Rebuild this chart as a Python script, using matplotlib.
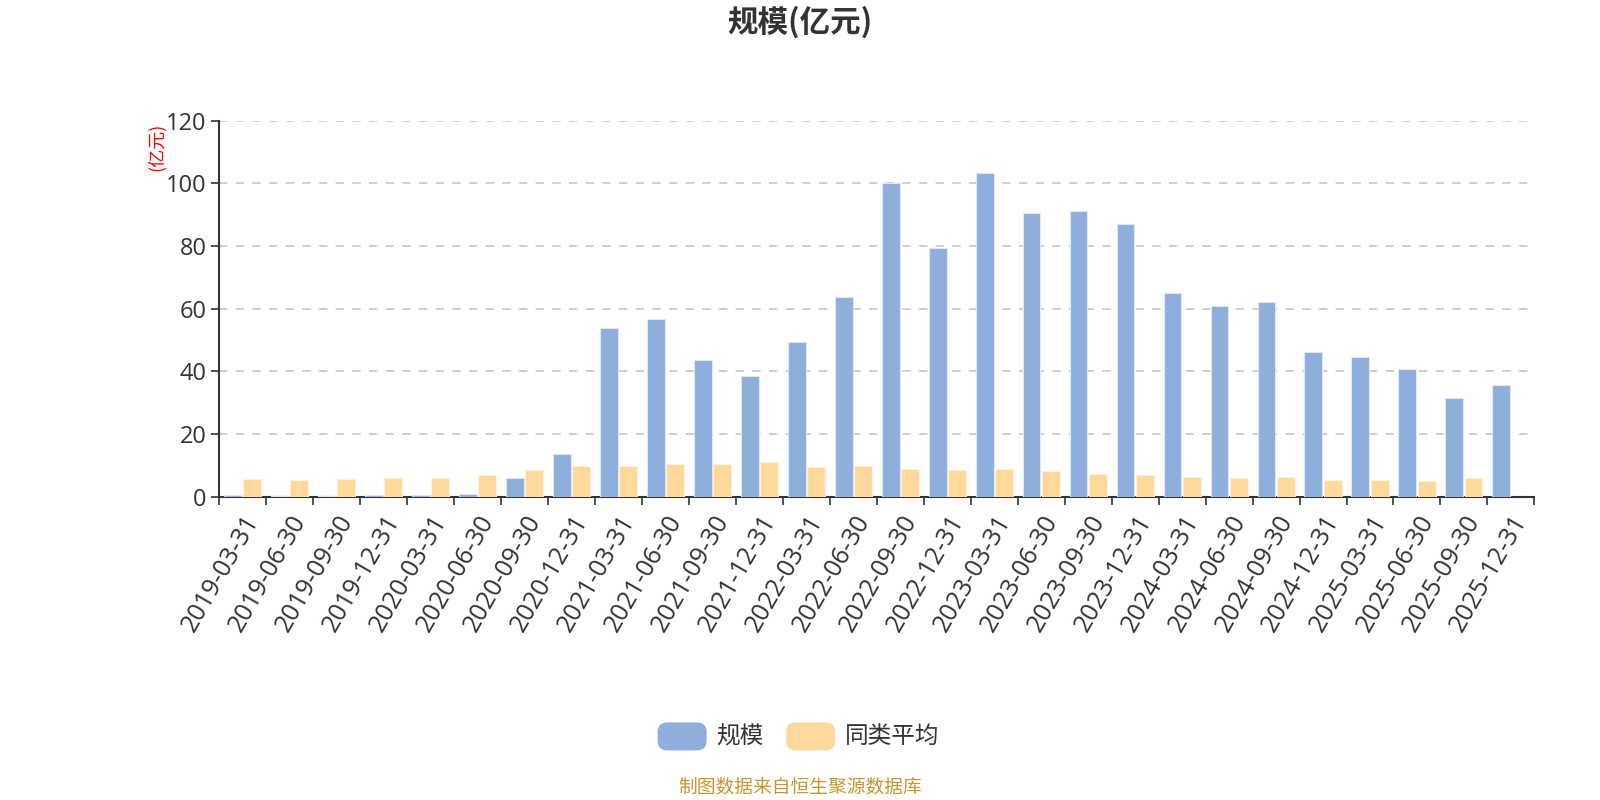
import numpy as np
import matplotlib.pyplot as plt
from matplotlib.patches import FancyBboxPatch

plt.rcParams['font.family'] = ['Open Sans', 'Noto Sans CJK SC', 'DejaVu Sans']
cjk = ['Noto Sans CJK SC', 'DejaVu Sans']

# quarter-end dates
dates = ['2019-03-31', '2019-06-30', '2019-09-30', '2019-12-31',
         '2020-03-31', '2020-06-30', '2020-09-30', '2020-12-31',
         '2021-03-31', '2021-06-30', '2021-09-30', '2021-12-31',
         '2022-03-31', '2022-06-30', '2022-09-30', '2022-12-31',
         '2023-03-31', '2023-06-30', '2023-09-30', '2023-12-31',
         '2024-03-31', '2024-06-30', '2024-09-30', '2024-12-31',
         '2025-03-31', '2025-06-30', '2025-09-30', '2025-12-31']

# fund size (亿元)
scale = [0.5, 0.4, 0.4, 0.5, 0.7, 0.9, 5.9, 13.6,
         54.0, 56.7, 43.6, 38.4, 49.4, 63.8, 100.2, 79.3,
         103.4, 90.7, 91.3, 87.1, 65.0, 61.0, 62.3, 46.2,
         44.5, 40.9, 31.5, 35.8]

# peer average (亿元), no value for the last quarter
peer_avg = [5.7, 5.4, 5.6, 6.0, 5.9, 7.1, 8.5, 9.8,
            9.8, 10.4, 10.4, 11.1, 9.5, 9.8, 8.8, 8.5,
            8.8, 8.1, 7.4, 6.8, 6.2, 5.9, 6.2, 5.5,
            5.5, 5.2, 6.0, np.nan]

blue = '#8eaedb'
yellow = '#fed99b'
text_col = '#333333'

fig = plt.figure(figsize=(16, 8), dpi=100)
ax = fig.add_axes([0.137, 0.379, 0.822, 0.470])

x = np.arange(len(dates))
w = 0.38
ax.bar(x - 0.205, scale, width=w, color=blue, edgecolor='#dfe7f5', linewidth=0.8, zorder=3)
ax.bar(x + 0.205, peer_avg, width=w, color=yellow, edgecolor='#fff0d6', linewidth=0.8, zorder=3)

ax.set_xlim(-0.5, len(dates) - 0.5)
ax.set_ylim(0, 120)
ax.set_yticks(np.arange(0, 121, 20))
for v in range(20, 121, 20):
    ax.axhline(v, color='#c8c8c8', linestyle=(0, (5, 5)), linewidth=1.2, zorder=1)

ax.set_xticks(x)
ax.set_xticklabels(dates, rotation=60, ha='right', rotation_mode='anchor')
ax.set_xticks(np.arange(-0.5, len(dates)), minor=True)
ax.tick_params(axis='x', which='major', length=0, pad=10, labelsize=18, labelcolor=text_col)
ax.tick_params(axis='x', which='minor', length=6, width=1.2, color=text_col)
ax.tick_params(axis='y', length=6, width=1.2, color=text_col, labelsize=17, labelcolor=text_col, pad=3)

for s in ['top', 'right']:
    ax.spines[s].set_visible(False)
for s in ['left', 'bottom']:
    ax.spines[s].set_color(text_col)
    ax.spines[s].set_linewidth(1.5)

fig.text(0.5, 0.972, '规模(亿元)', ha='center', va='center', fontsize=22,
         fontweight='bold', color=text_col, family=cjk)
fig.text(0.098, 0.816, '(亿元)', ha='center', va='center', rotation=90,
         fontsize=13, color='red', family=cjk)

# legend
items = [('规模', blue, 0.411), ('同类平均', yellow, 0.4913)]
for label, col, x0 in items:
    box = FancyBboxPatch((x0, 0.062), 0.0306, 0.035, boxstyle='round,pad=0,rounding_size=0.006',
                         transform=fig.transFigure, facecolor=col, edgecolor='none',
                         mutation_aspect=2)
    fig.patches.append(box)
    fig.text(x0 + 0.0365, 0.080, label, ha='left', va='center', fontsize=17,
             color=text_col, family=cjk)

fig.text(0.5, 0.016, '制图数据来自恒生聚源数据库', ha='center', va='center',
         fontsize=13.5, color='#c8962e', family=cjk)

fig.savefig('out.png', dpi=100, facecolor='white')
